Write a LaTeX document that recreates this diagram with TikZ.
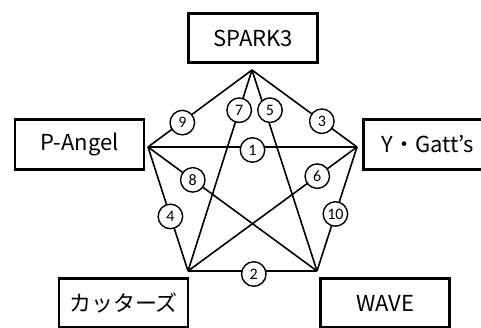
\documentclass[tikz,border=0pt]{standalone}
\usepackage{fontspec}
\setmainfont{Noto Sans CJK JP}
\newfontfamily\numfont{Carlito}
\tikzset{
  team/.style={draw,line width=2.6pt,minimum width=129pt,minimum height=49.5pt,inner sep=0pt,font=\fontsize{22}{26}\selectfont},
  num/.style={circle,draw,fill=white,line width=1.4pt,minimum size=24.5pt,inner sep=0pt,font=\numfont\fontsize{16}{18}\selectfont},
  link/.style={line width=1.6pt}
}
\begin{document}
\begin{tikzpicture}[x=1pt,y=-1pt]
    \useasboundingbox (0,0) rectangle (481,327);
    \clip (0,0) rectangle (481,327);
    % teams
    \node[team] (spark) at (253,38) {SPARK3};
    \node[team] (angel) at (79.5,144.5) {P-Angel};
    \node[team] (gatts) at (428,144.5) {Y・Gatt’s};
    \node[team] (cutters) at (123.5,303) {カッターズ};
    \node[team] (wave) at (385,303) {WAVE};
    % corners of the pentagon
    \coordinate (s) at (252,70);
    \coordinate (a) at (148,147);
    \coordinate (g) at (357,147);
    \coordinate (c) at (188,271);
    \coordinate (w) at (317,271);
    % matches
    \draw[link] (a) -- node[num,pos=.5,yshift=-3pt]{1} (g);
    \draw[link] (c) -- node[num,pos=.51,yshift=-3pt]{2} (w);
    \draw[link] (s) -- node[num,pos=.665]{3} (g);
    \draw[link] (a) -- node[num,pos=.56]{4} (c);
    \draw[link] (s) -- node[num,pos=.2,xshift=5pt]{5} (w);
    \draw[link] (g) -- node[num,pos=.235]{6} (c);
    \draw[link] (s) -- node[num,pos=.2]{7} (c);
    \draw[link] (a) -- node[num,pos=.265]{8} (w);
    \draw[link] (s) -- node[num,pos=.67,yshift=-1pt]{9} (a);
    \draw[link] (g) -- node[num,pos=.54]{10} (w);
\end{tikzpicture}
\end{document}
